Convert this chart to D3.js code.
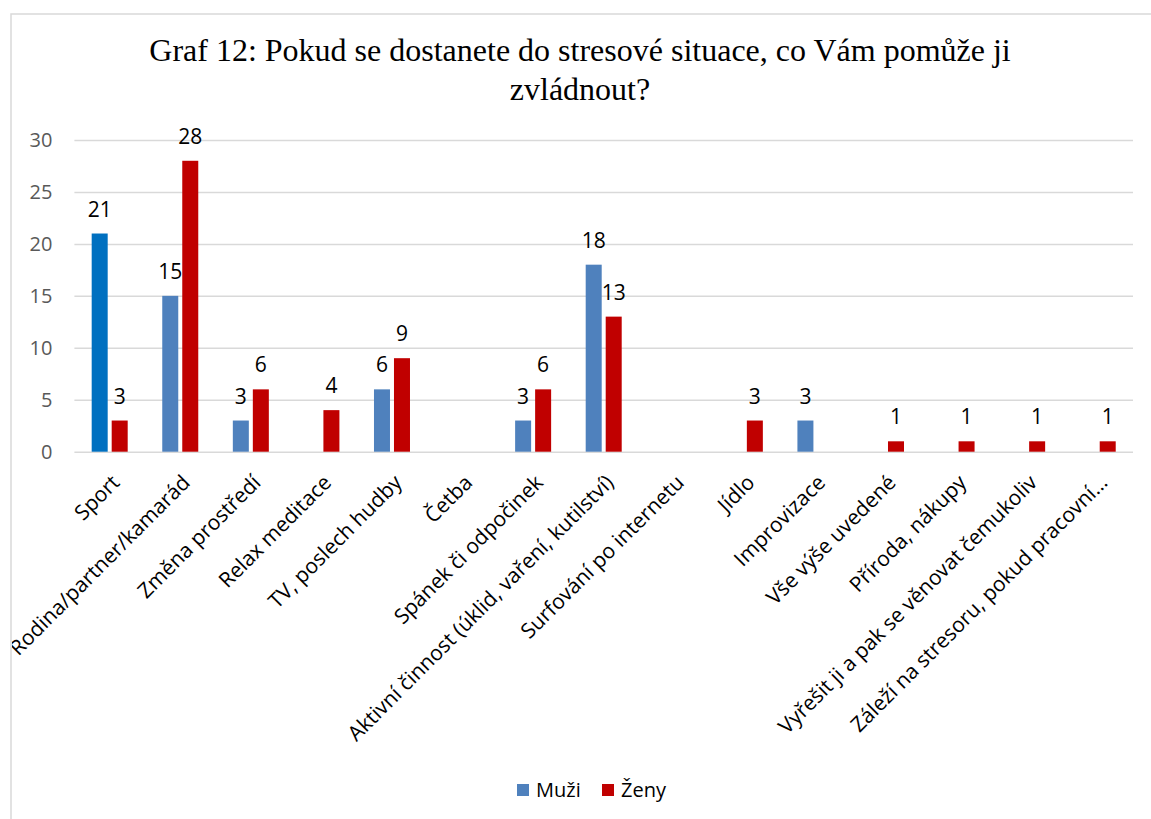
<!DOCTYPE html>
<html>
<head>
<meta charset="utf-8">
<script src="https://cdn.jsdelivr.net/npm/d3@7"></script>
<style>
  html, body { margin: 0; padding: 0; background: #fff; }
  svg { display: block; }
</style>
</head>
<body>
<svg id="chart" width="1151" height="819"></svg>
<script>
// ---- data ----
const titleLines = ["Graf 12: Pokud se dostanete do stresové situace, co Vám pomůže ji", "zvládnout?"];
const categories = [
  "Sport",
  "Rodina/partner/kamarád",
  "Změna prostředí",
  "Relax meditace",
  "TV, poslech hudby",
  "Četba",
  "Spánek či odpočinek",
  "Aktivní činnost (úklid, vaření, kutilství)",
  "Surfování po internetu",
  "Jídlo",
  "Improvizace",
  "Vše výše uvedené",
  "Příroda, nákupy",
  "Vyřešit ji a pak se věnovat čemukoliv",
  "Záleží na stresoru, pokud pracovní…"
];
const seriesNames = ["Muži", "Ženy"];
const muzi = [21, 15, 3, null, 6, null, 3, 18, null, null, 3, null, null, null, null];
const zeny = [3, 28, 6, 4, 9, null, 6, 13, null, 3, null, 1, 1, 1, 1];
const yTicks = [0, 5, 10, 15, 20, 25, 30];

// ---- layout ----
const svg = d3.select("#chart");
const W = 1151, H = 819;
const plot = { left: 74.4, right: 1133, top: 140, bottom: 451.7 };
const colors = { "Muži": "#4F81BD", "Ženy": "#C00000" };
const highlight = { series: "Muži", category: "Sport", color: "#0070C0" };

// chart frame
svg.append("rect")
  .attr("x", 11).attr("y", 14)
  .attr("width", W + 20).attr("height", H + 20)
  .attr("fill", "#fff").attr("stroke", "#d9d9d9").attr("stroke-width", 1.5);

svg.append("defs").append("clipPath").attr("id", "frameClip")
  .append("rect").attr("x", 12).attr("y", 15).attr("width", W).attr("height", H);

const root = svg.append("g").attr("clip-path", "url(#frameClip)");

// title
const title = root.append("text")
  .attr("text-anchor", "middle")
  .attr("font-family", "'Liberation Serif', 'Times New Roman', serif")
  .attr("font-size", 32)
  .attr("fill", "#000");
titleLines.forEach((t, i) => {
  title.append("tspan").attr("x", 580).attr("y", 61 + i * 39).text(t);
});

// scales
const x = d3.scaleBand().domain(categories).range([plot.left, plot.right]).paddingInner(0).paddingOuter(0);
const x1 = d3.scaleBand().domain(seriesNames).range([0, x.bandwidth()]).paddingInner(0.2).paddingOuter(0.864);
const y = d3.scaleLinear().domain([0, 30]).range([plot.bottom, plot.top]);

// gridlines + y axis
const yAxis = d3.axisLeft(y).tickValues(yTicks).tickSize(-(plot.right - plot.left)).tickPadding(22);
const gy = root.append("g").attr("transform", `translate(${plot.left},0)`).call(yAxis);
gy.select(".domain").remove();
gy.selectAll(".tick line").attr("stroke", "#d9d9d9").attr("stroke-width", 1.5);
gy.selectAll(".tick text")
  .attr("font-family", "'Open Sans', sans-serif")
  .attr("font-size", 20)
  .attr("fill", "#595959");

// data rows
const rows = categories.map((c, i) => ({ category: c, values: [
  { series: "Muži", category: c, value: muzi[i] },
  { series: "Ženy", category: c, value: zeny[i] }
]}));

const groups = root.append("g").selectAll("g.cat").data(rows).join("g")
  .attr("class", "cat")
  .attr("transform", d => `translate(${x(d.category)},0)`);

const pts = groups.selectAll("g.pt").data(d => d.values.filter(v => v.value !== null)).join("g").attr("class", "pt");

pts.append("rect")
  .attr("x", d => x1(d.series))
  .attr("width", x1.bandwidth())
  .attr("y", d => y(d.value))
  .attr("height", d => y(0) - y(d.value))
  .attr("fill", d => (d.series === highlight.series && d.category === highlight.category) ? highlight.color : colors[d.series]);

pts.append("text")
  .attr("x", d => x1(d.series) + x1.bandwidth() / 2)
  .attr("y", d => y(d.value) - 17)
  .attr("text-anchor", "middle")
  .attr("font-family", "'Open Sans', sans-serif")
  .attr("font-size", 21)
  .attr("fill", "#000")
  .text(d => d.value);

// x axis labels
const xAxis = d3.axisBottom(x).tickSize(0).tickPadding(0);
const gx = root.append("g").attr("transform", `translate(0,${plot.bottom})`).call(xAxis);
gx.select(".domain").remove();
gx.selectAll(".tick text")
  .attr("font-family", "'Open Sans', sans-serif")
  .attr("font-size", 21)
  .attr("fill", "#000")
  .attr("text-anchor", "end")
  .attr("x", 0).attr("y", 0).attr("dy", "0.35em")
  .attr("transform", "translate(6,27) rotate(-45)");

// legend
const legend = root.append("g");
const legendItems = [{ name: "Muži", x: 517 }, { name: "Ženy", x: 602 }];
legendItems.forEach(it => {
  legend.append("rect").attr("x", it.x).attr("y", 784).attr("width", 12).attr("height", 12).attr("fill", colors[it.name]);
  legend.append("text").attr("x", it.x + 19).attr("y", 797)
    .attr("font-family", "'Open Sans', sans-serif").attr("font-size", 20).attr("fill", "#000")
    .text(it.name);
});
</script>
</body>
</html>
